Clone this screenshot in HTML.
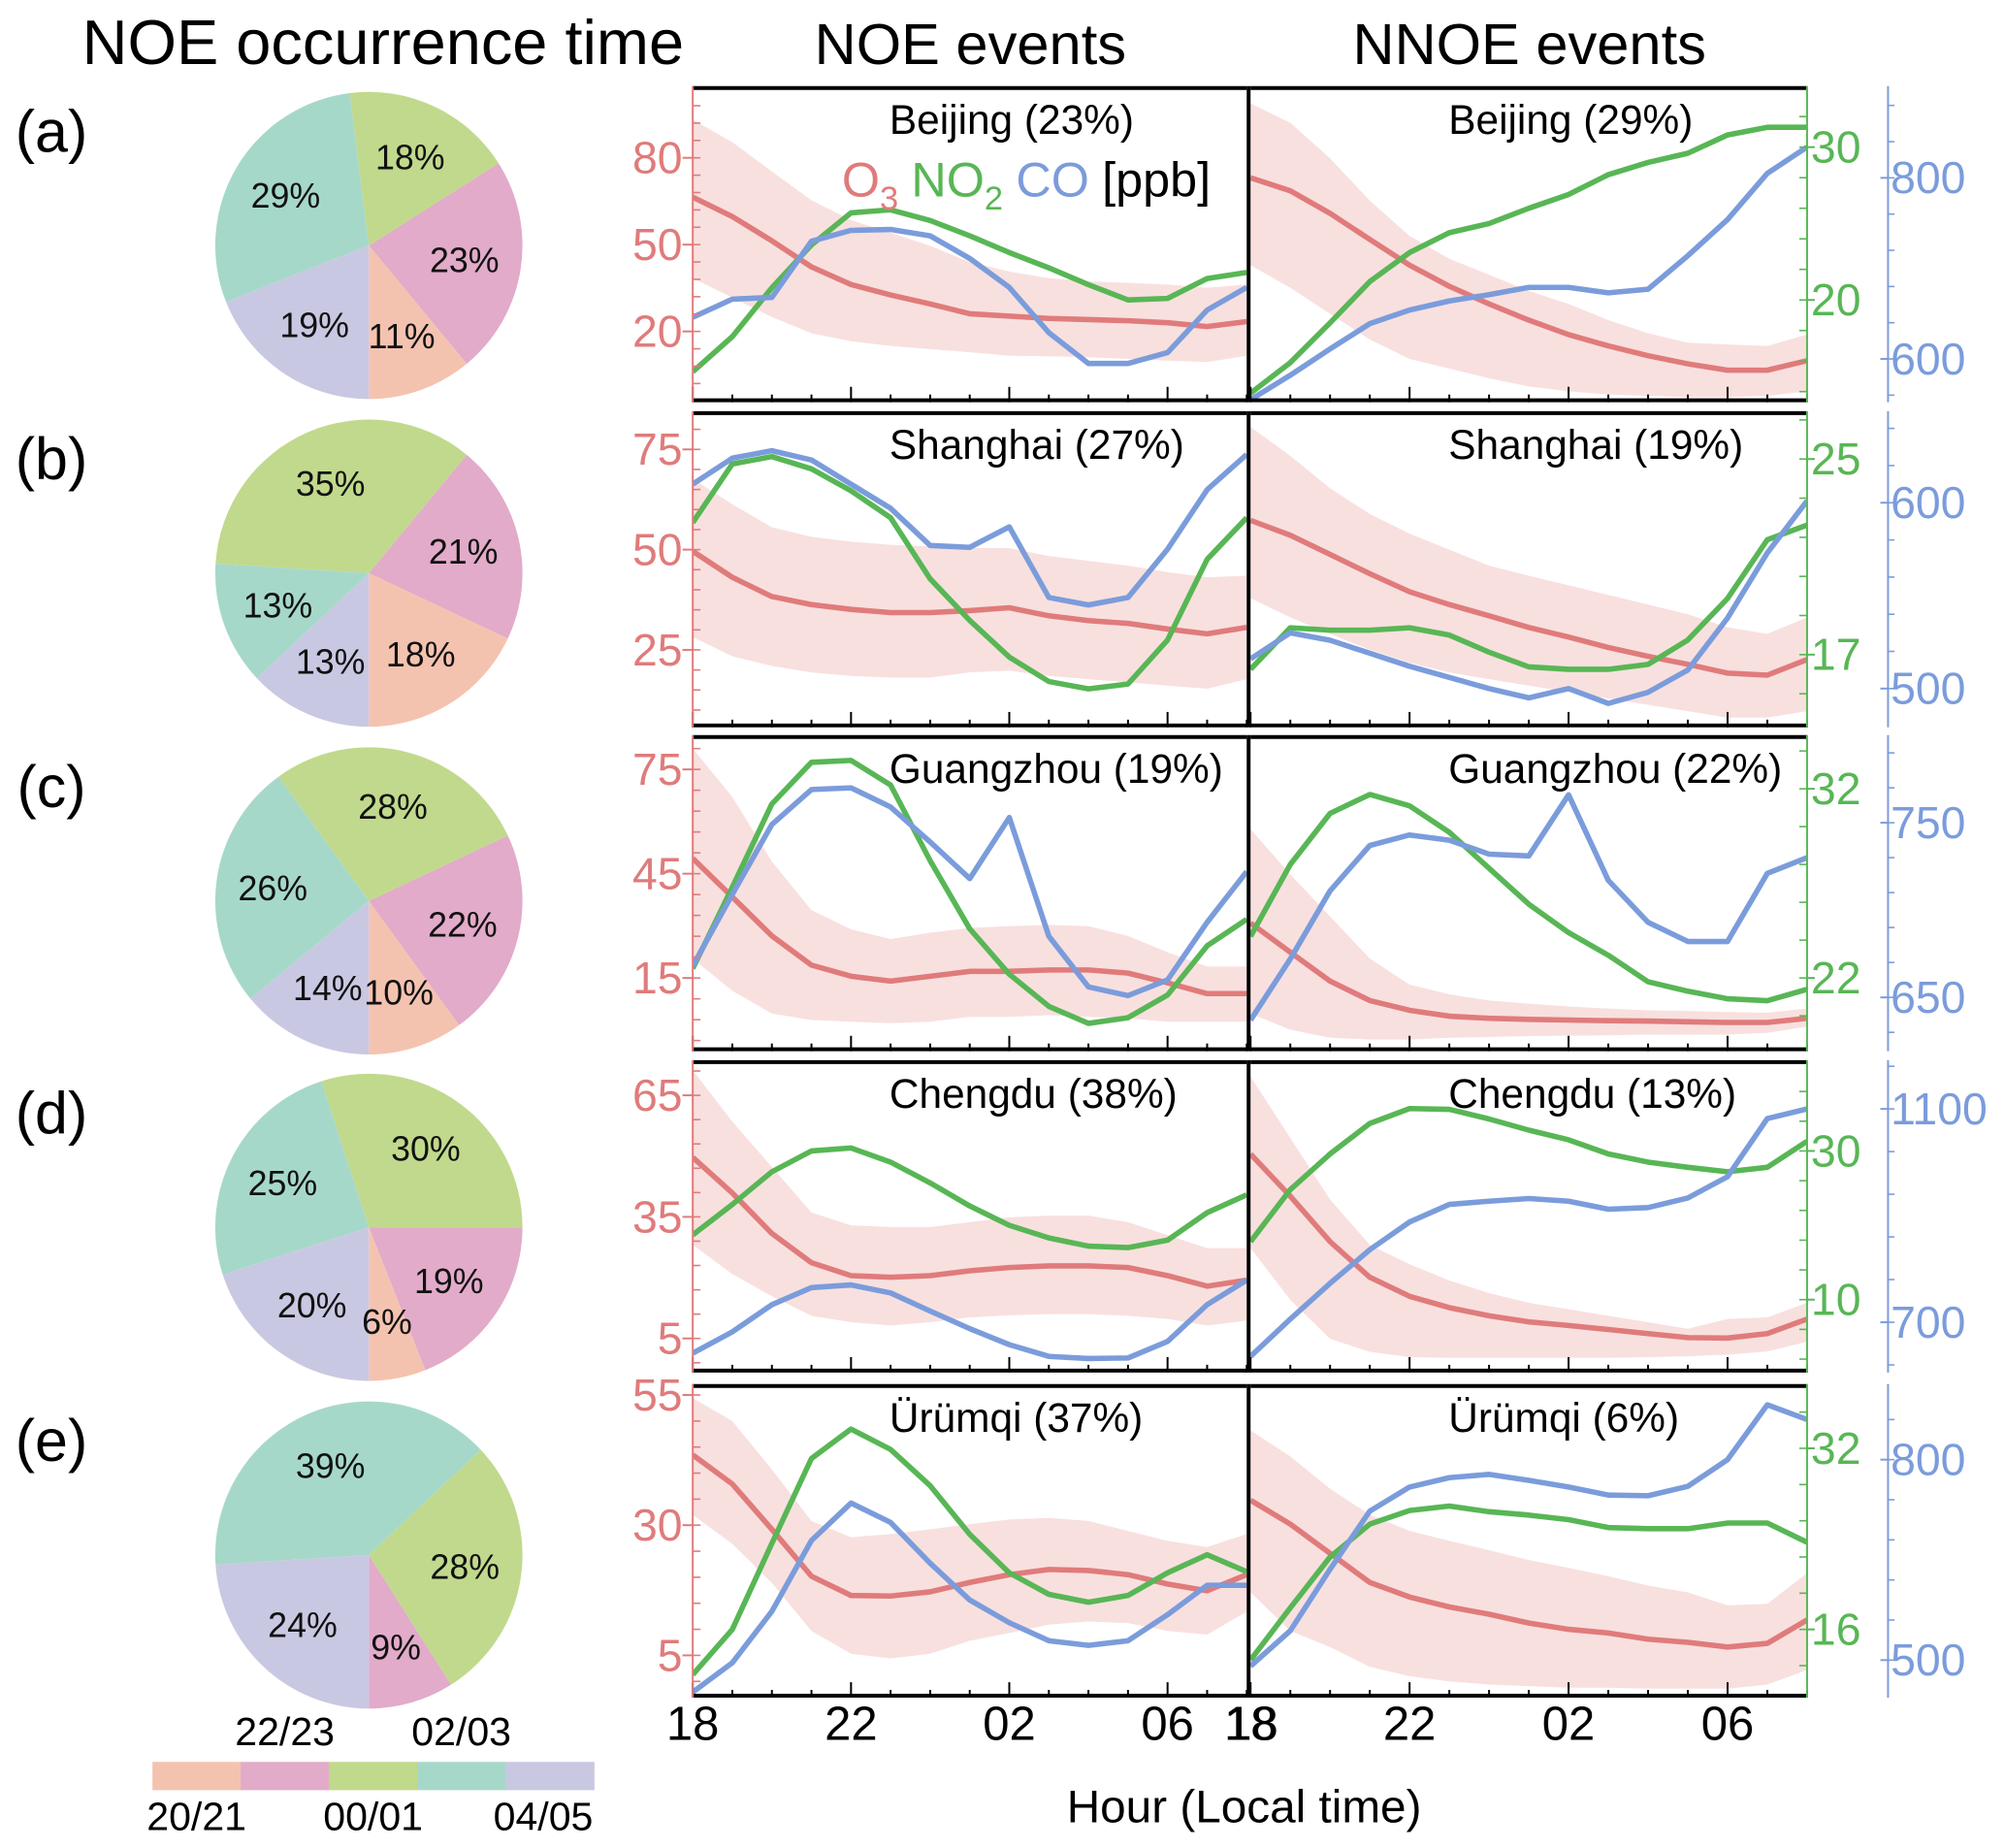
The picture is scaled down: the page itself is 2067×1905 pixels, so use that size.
<!DOCTYPE html>
<html><head><meta charset="utf-8">
<style>
html,body{margin:0;padding:0;background:#fff;}
svg{display:block;font-family:"Liberation Sans",Arial,sans-serif;}
</style></head>
<body>
<svg id="fig" xmlns="http://www.w3.org/2000/svg" width="2067" height="1905" viewBox="0 0 1560 1438" preserveAspectRatio="none">
<rect x="0" y="0" width="1560" height="1438" fill="#fff"/>
<text x="298" y="50" font-size="49" text-anchor="middle">NOE occurrence time</text>
<text x="755" y="50" font-size="45" text-anchor="middle">NOE events</text>
<text x="1190" y="50" font-size="45" text-anchor="middle">NNOE events</text>
<text x="968" y="1418" font-size="36" text-anchor="middle">Hour (Local time)</text>
<g id="layer"></g>
</svg>
<script>
// ---------- data ----------
const hourLabels = ["18","22","02","06"];
const slotLabels = ["20/21","22/23","00/01","02/03","04/05"];
const cityNames = ["Beijing","Shanghai","Guangzhou","Chengdu","Ürümqi"];
const noeShare = ["23%","27%","19%","38%","37%"];
const nnoeShare = ["29%","19%","22%","13%","6%"];
const rowLetters = ["(a)","(b)","(c)","(d)","(e)"];

const pieA = [11,23,18,29,19];
const pieB = [18,21,35,13,13];
const pieC = [10,22,28,26,14];
const pieD = [6,19,30,25,20];
const pieE = [0,9,28,39,24];

const o3TicksA=[20,50,80], no2TicksA=[20,30], coTicksA=[600,800];
const o3TicksB=[25,50,75], no2TicksB=[17,25], coTicksB=[500,600];
const o3TicksC=[15,45,75], no2TicksC=[22,32], coTicksC=[650,750];
const o3TicksD=[5,35,65], no2TicksD=[10,30], coTicksD=[700,1100];
const o3TicksE=[5,30,55], no2TicksE=[16,32], coTicksE=[500,800];

// Row a
const noeA_o3=[66.4,59.7,51.3,42.3,36.2,32.6,29.5,26.1,25.3,24.5,24.1,23.7,23,21.7,23.4];
const noeA_hi=[93.2,85.4,75.3,65.3,58.5,54.1,49.6,44,40.7,38.4,37.3,36.8,36.2,35.1,36.2];
const noeA_lo=[38.4,31.7,25,19.4,16.6,15,13.9,12.8,11.6,11.4,11.1,10.5,9.9,9.4,11.6];
const noeA_no2=[15.3,17.6,20.8,23.6,25.7,25.9,25.2,24.2,23.1,22.1,21,20,20.1,21.4,21.8];
const noeA_co=[646,666,668,730,742,743,736,711,679,629,595,595,607,654,679];
const nnoeA_o3=[73.1,68.6,60.8,51.8,42.9,35.6,29.5,23.9,18.9,15,11.6,8.8,6.6,6.6,9.9];
const nnoeA_hi=[98.8,92.1,79.8,65.2,53,45.1,39.6,34,29.5,23.9,19.4,16.1,15.5,15,18.9];
const nnoeA_lo=[42.9,35.1,26.1,17.2,10.5,7.2,3.8,1,-0.7,-1.8,-2.3,-2.7,-2.7,-2.3,-0.7];
const nnoeA_no2=[13.9,15.9,18.5,21.2,23.1,24.4,25,26,26.9,28.2,29,29.6,30.8,31.3,31.3];
const nnoeA_co=[555,582,611,639,654,664,671,679,679,673,677,714,754,805,834];
// Row b
const noeB_o3=[49.6,43.1,38.3,36.3,35.1,34.3,34.3,34.8,35.5,33.5,32.3,31.6,30.2,29,30.6];
const noeB_hi=[67.7,61.3,55.6,53.2,52,51.2,50.8,50.4,50.4,48.4,47.2,46,44.4,43.1,43.5];
const noeB_lo=[28.2,23.4,21,19.4,18.5,18.1,18.1,19.4,19.8,18.5,17.7,16.9,16.1,15.3,17.7];
const noeB_no2=[22.4,24.8,25.1,24.6,23.7,22.6,20.1,18.4,16.9,15.9,15.6,15.8,17.6,20.9,22.6];
const noeB_co=[610,624,628,623,610,597,577,576,587,549,545,549,575,607,626];
const nnoeB_o3=[57.3,53.6,48.8,44,39.5,36.3,33.5,30.6,28.2,25.6,23.4,21.4,19.2,18.7,22.6];
const nnoeB_hi=[80.6,73.4,65.3,58.9,54,50,46,43.5,41.1,38.7,36.3,33.9,30.6,29,33.1];
const nnoeB_lo=[37.9,33.1,29,25,21.8,19.4,17.7,16.1,14.5,12.9,11.3,9.7,8.1,8.1,9.7];
const nnoeB_no2=[16.4,18.1,18,18,18.1,17.8,17.1,16.5,16.4,16.4,16.6,17.6,19.3,21.7,22.3];
const nnoeB_co=[516,530,526,519,512,506,500,495,500,492,498,510,538,573,601];
// Row c
const noeC_o3=[49.4,38.3,27.1,18.7,15.5,14.1,15.5,16.9,16.9,17.3,17.3,16.4,13.6,10.5,10.5];
const noeC_hi=[81,67.1,48.5,34.5,29,26.2,28,29.4,29.9,30.3,29.9,27.1,22.4,18.3,18.3];
const noeC_lo=[20.6,11.3,4.8,2.9,2.4,2,2.4,3.8,3.8,4.3,3.8,3.4,2.4,2.4,2.4];
const noeC_no2=[22.5,26.8,31.2,33.4,33.5,32.2,28.2,24.6,22.2,20.5,19.6,19.9,21.1,23.7,25.1];
const noeC_co=[668,709,749,769,770,759,739,718,753,685,656,651,660,693,722];
const nnoeC_o3=[30.8,22.4,14.1,8.5,5.7,4,3.4,3.1,2.9,2.7,2.6,2.4,2.2,2.2,3.4];
const nnoeC_hi=[57.8,44.8,32.7,20.6,13.1,10.3,8.5,7.6,6.8,6.2,5.7,5.5,5.2,5,6.2];
const nnoeC_lo=[4.8,0.1,-2.2,-2.7,-2.7,-2.2,-2,-1.7,-1.6,-1.5,-1.3,-1.3,-1.3,-0.8,1];
const nnoeC_no2=[24.2,28,30.7,31.7,31.1,29.7,27.8,25.9,24.4,23.2,21.8,21.3,20.9,20.8,21.4];
const nnoeC_co=[637,672,711,737,743,740,732,731,766,717,693,682,682,721,730];
// Row d
const noeD_o3=[49.7,40.9,30.9,23.7,20.5,20.1,20.5,21.7,22.5,22.9,22.9,22.5,20.5,17.9,19.4];
const noeD_hi=[71.2,58.5,47.3,36.1,32.9,32.5,32.5,33.7,34.9,35.3,35.3,33.7,30.5,27.3,27.3];
const noeD_lo=[28.1,20.9,15.4,10.6,9,8.2,9,10.2,10.7,11,11,10.6,9.8,8.2,9.4];
const noeD_no2=[18.7,22.8,27.2,30,30.4,28.5,25.7,22.6,20,18.3,17.2,17,18,21.7,24.1];
const noeD_co=[642,682,733,765,770,755,721,688,658,636,632,633,664,733,779];
const nnoeD_o3=[50.5,40.1,28.9,20.1,15.4,12.6,10.6,9.1,8.2,7.2,6.2,5.2,5.1,6.2,9.8];
const nnoeD_hi=[69.6,54.5,39.3,28.1,23.3,19.3,16.2,13.8,12.2,10.6,9,7.4,9.8,10.2,13.8];
const nnoeD_lo=[27.3,14.5,4.9,1.7,0.4,0.2,0.2,0.2,0.2,0.2,0.4,0.6,1,1.8,4.2];
const nnoeD_no2=[17.8,24.8,29.6,33.7,35.7,35.6,34.3,32.8,31.5,29.6,28.5,27.8,27.2,27.8,31.3];
const nnoeD_co=[636,706,773,836,888,921,927,932,927,912,915,933,973,1082,1100];
// Row e
const noeE_o3=[43.5,37.9,29.2,20.2,16.5,16.4,17.2,19,20.5,21.5,21.3,20.5,18.7,17.4,20.5];
const noeE_hi=[54.4,50,40.7,30.8,27.7,28.3,29.2,30.2,31.1,31.4,30.8,28.9,27,25.8,28.3];
const noeE_lo=[32,26.4,18.9,9.7,5.3,4.4,5.3,7.8,9.3,10.9,11.5,11.2,9.7,9,13.4];
const noeE_no2=[12,16,23.6,31.1,33.7,31.9,28.7,24.4,21,19.1,18.4,19,21,22.6,21.1];
const noeE_co=[452,496,573,679,735,706,645,590,556,529,522,529,568,612,612];
const nnoeE_o3=[34.8,30.2,24.6,19,16.2,14.3,12.9,11.2,10,9.3,8.1,7.5,6.6,7.3,11.8];
const nnoeE_hi=[48.2,43.2,37,32,28.9,27,25.2,23.3,21.8,20.2,18.4,17.1,14.6,14.9,20.8];
const nnoeE_lo=[17.1,9.7,6.6,2.8,1,0,-0.6,-0.9,-1.2,-1.2,-1.4,-1.4,-1.4,-0.6,2.2];
const nnoeE_no2=[13.3,17.9,22.4,25.3,26.5,26.9,26.4,26.1,25.7,25,24.9,24.9,25.4,25.4,23.7];
const nnoeE_co=[491,544,636,723,759,773,778,769,759,747,746,760,800,882,860];

// ---------- layout (not data) ----------
const RED="#e07b7b", GREEN="#58b655", BLUE="#7b9cdb", BAND="#f8e0df";
const sliceColors=["#f4c3b0","#e2abc9","#c1d98c","#a6d8c9","#c9c8e2"];
const rowTop=[67,320,572,825,1077], rowBot=[313,566,818,1068,1321];
const panelX=[[539,970],[973,1406]];
const pieCY=[191,446,701,955,1210], pieCX=287, pieR=119.5;
const calO3=[[[80,122.8],[20,257.9]],[[75,349.7],[25,505.7]],[[75,598.7],[15,761]],[[65,852.3],[5,1041.5]],[[55,1085.5],[5,1288.1]]];
const calNO2=[[[30,114.5],[20,233.4]],[[25,357.2],[17,509.4]],[[32,613.8],[22,761]],[[30,895.6],[10,1011.3]],[[32,1127],[16,1267.9]]];
const calCO=[[[800,138.4],[600,279.3]],[[600,391.2],[500,535.8]],[[750,640.2],[650,776.1]],[[1100,862.9],[700,1028.9]],[[800,1135.8],[500,1291.8]]];

const rows=[
 {pie:pieA,o3t:o3TicksA,no2t:no2TicksA,cot:coTicksA,p:[[noeA_o3,noeA_hi,noeA_lo,noeA_no2,noeA_co],[nnoeA_o3,nnoeA_hi,nnoeA_lo,nnoeA_no2,nnoeA_co]]},
 {pie:pieB,o3t:o3TicksB,no2t:no2TicksB,cot:coTicksB,p:[[noeB_o3,noeB_hi,noeB_lo,noeB_no2,noeB_co],[nnoeB_o3,nnoeB_hi,nnoeB_lo,nnoeB_no2,nnoeB_co]]},
 {pie:pieC,o3t:o3TicksC,no2t:no2TicksC,cot:coTicksC,p:[[noeC_o3,noeC_hi,noeC_lo,noeC_no2,noeC_co],[nnoeC_o3,nnoeC_hi,nnoeC_lo,nnoeC_no2,nnoeC_co]]},
 {pie:pieD,o3t:o3TicksD,no2t:no2TicksD,cot:coTicksD,p:[[noeD_o3,noeD_hi,noeD_lo,noeD_no2,noeD_co],[nnoeD_o3,nnoeD_hi,nnoeD_lo,nnoeD_no2,nnoeD_co]]},
 {pie:pieE,o3t:o3TicksE,no2t:no2TicksE,cot:coTicksE,p:[[noeE_o3,noeE_hi,noeE_lo,noeE_no2,noeE_co],[nnoeE_o3,nnoeE_hi,nnoeE_lo,nnoeE_no2,nnoeE_co]]}
];

const NS="http://www.w3.org/2000/svg";
const layer=document.getElementById('layer');
function mk(tag,attrs,parent){const e=document.createElementNS(NS,tag);for(const k in attrs)e.setAttribute(k,attrs[k]);(parent||layer).appendChild(e);return e;}
function scale(cal){const [a,b]=cal;return v=>a[1]+(v-a[0])*(b[1]-a[1])/(b[0]-a[0]);}
function xPos(panel,i){const [l,r]=panelX[panel];return l+i*(r-l)/14;}

const defs=mk('defs',{});
rows.forEach((row,ri)=>{
  const top=rowTop[ri], bot=rowBot[ri];
  const yO3=scale(calO3[ri]), yNO2=scale(calNO2[ri]), yCO=scale(calCO[ri]);
  const lt=mk('text',{x:40,y:pieCY[ri]-73,'font-size':46,'text-anchor':'middle'});
  lt.textContent=rowLetters[ri];
  
  
  const pg=mk('g',{});
  
  
  const tot=row.pie.reduce((a,b)=>a+b,0);
  let acc=0;
  row.pie.forEach((v,si)=>{
    if(v<=0){return;}
    const a0=acc/tot*2*Math.PI, a1=(acc+v)/tot*2*Math.PI; acc+=v;
    const cx=pieCX, cy=pieCY[ri], r=pieR;
    const x0=cx+r*Math.sin(a0), y0=cy+r*Math.cos(a0), x1=cx+r*Math.sin(a1), y1=cy+r*Math.cos(a1);
    const large=(a1-a0)>Math.PI?1:0;
    const s=mk('path',{d:`M${cx},${cy} L${x0},${y0} A${r},${r} 0 ${large} 0 ${x1},${y1} Z`,fill:sliceColors[si]},pg);
    
    
  });
  acc=0;
  row.pie.forEach((v,si)=>{
    if(v<=0){return;}
    const a0=acc/tot*2*Math.PI, a1=(acc+v)/tot*2*Math.PI; acc+=v;
    const am=(a0+a1)/2, lr=pieR*0.63;
    const t=mk('text',{x:pieCX+lr*Math.sin(am),y:pieCY[ri]+lr*Math.cos(am)+9,'font-size':27,'text-anchor':'middle',fill:'#111'},pg);
    t.textContent=v+'%';
    
    
  });
  [0,1].forEach(pi=>{
    const [l,r]=panelX[pi];
    const d=row.p[pi];
    const cid='clip'+ri+'_'+pi;
    const cp=mk('clipPath',{id:cid},defs);
    mk('rect',{x:l,y:top,width:r-l,height:bot-top},cp);
    const g=mk('g',{'clip-path':`url(#${cid})`});
    
    
    let bp='';
    d[1].forEach((v,i)=>{bp+=(i?'L':'M')+xPos(pi,i)+','+yO3(v);});
    for(let i=d[2].length-1;i>=0;i--){bp+='L'+xPos(pi,i)+','+yO3(d[2][i]);}
    const band=mk('path',{d:bp+'Z',fill:BAND},g);
    
    
    const series=[[d[0],yO3,RED,'o3-line'],[d[3],yNO2,GREEN,'no2-line'],[d[4],yCO,BLUE,'co-line']];
    series.forEach(([vals,ys,col,nm])=>{
      const pts=vals.map((v,i)=>xPos(pi,i)+','+ys(v)).join(' ');
      const pl=mk('polyline',{points:pts,fill:'none',stroke:col,'stroke-width':4.2,'stroke-linejoin':'round'},g);
      
      
    });
    for(let i=0;i<=14;i++){
      const x=xPos(pi,i), len=(i%4===0)?12:6;
      mk('line',{x1:x,y1:bot,x2:x,y2:bot-len,stroke:'#000','stroke-width':1.5});
    }
    mk('line',{x1:l,y1:top+1.5,x2:r,y2:top+1.5,stroke:'#000','stroke-width':3});
    mk('line',{x1:l,y1:bot-1.5,x2:r,y2:bot-1.5,stroke:'#000','stroke-width':3});
    const tt=mk('text',{x:l+(pi?154:153),y:top+37,'font-size':32});
    tt.textContent=cityNames[ri]+' ('+(pi?nnoeShare[ri]:noeShare[ri])+')';
    
    
  });
  mk('line',{x1:971.5,y1:top,x2:971.5,y2:bot,stroke:'#000','stroke-width':3});
  mk('line',{x1:539,y1:top,x2:539,y2:bot,stroke:RED,'stroke-width':1.5});
  mk('line',{x1:1406,y1:top,x2:1406,y2:bot,stroke:GREEN,'stroke-width':1.5});
  mk('line',{x1:1469,y1:top,x2:1469,y2:bot,stroke:BLUE,'stroke-width':1.5});
  const o3step=(row.o3t[1]-row.o3t[0])/5;
  for(let v=row.o3t[0]-10*o3step;v<=row.o3t[2]+10*o3step;v+=o3step){
    const y=yO3(v); if(y<top+3||y>bot-3)continue;
    mk('line',{x1:539,y1:y,x2:545,y2:y,stroke:RED,'stroke-width':1.2});
  }
  row.o3t.forEach(v=>{
    const y=yO3(v);
    mk('line',{x1:531,y1:y,x2:539,y2:y,stroke:RED,'stroke-width':1.5});
    const t=mk('text',{x:531,y:y+12,'font-size':35,'text-anchor':'end',fill:RED});
    t.textContent=v;
    
    
  });
  const nstep=(row.no2t[1]-row.no2t[0])/5;
  for(let v=row.no2t[0]-10*nstep;v<=row.no2t[1]+10*nstep;v+=nstep){
    const y=yNO2(v); if(y<top+3||y>bot-3)continue;
    mk('line',{x1:1400,y1:y,x2:1406,y2:y,stroke:GREEN,'stroke-width':1.2});
  }
  row.no2t.forEach(v=>{
    const y=yNO2(v);
    mk('line',{x1:1406,y1:y,x2:1412,y2:y,stroke:GREEN,'stroke-width':1.5});
    const t=mk('text',{x:1409,y:y+12,'font-size':35,fill:GREEN});
    t.textContent=v;
    
    
  });
  const cstep=(row.cot[1]-row.cot[0])/5;
  for(let v=row.cot[0]-10*cstep;v<=row.cot[1]+10*cstep;v+=cstep){
    const y=yCO(v); if(y<top+3||y>bot-3)continue;
    mk('line',{x1:1469,y1:y,x2:1474,y2:y,stroke:BLUE,'stroke-width':1.2});
  }
  row.cot.forEach(v=>{
    const y=yCO(v);
    mk('line',{x1:1463,y1:y,x2:1469,y2:y,stroke:BLUE,'stroke-width':1.5});
    const t=mk('text',{x:1471,y:y+12,'font-size':35,fill:BLUE});
    t.textContent=v;
    
    
  });
});

const lg=mk('text',{x:655,y:153,'font-size':38});


lg.innerHTML='<tspan fill="'+RED+'">O</tspan><tspan fill="'+RED+'" font-size="26" dy="10">3</tspan><tspan fill="'+GREEN+'" dy="-10" dx="10">NO</tspan><tspan fill="'+GREEN+'" font-size="26" dy="10">2</tspan><tspan fill="'+BLUE+'" dy="-10" dx="10">CO</tspan><tspan fill="#000" dx="10">[ppb]</tspan>';

[0,1].forEach(pi=>{
  hourLabels.forEach((h,k)=>{
    const t=mk('text',{x:xPos(pi,k*4),y:1354,'font-size':37,'text-anchor':'middle'});
    t.textContent=h;
    
    
  });
});
const t18=mk('text',{x:xPos(0,14)+4,y:1354,'font-size':37,'text-anchor':'middle'});
t18.textContent='18';



const lx0=118.6, lx1=462, lw=(lx1-lx0)/5;
slotLabels.forEach((s,i)=>{
  const r=mk('rect',{x:lx0+i*lw,y:1371,width:lw+0.5,height:22,fill:sliceColors[i]});
  
  
  const cx=lx0+(i+0.5)*lw;
  const t=mk('text',{x:cx+(i===4?-5:0),y:(i%2===1)?1358:1424,'font-size':31,'text-anchor':'middle'});
  t.textContent=s;
  
  
});
</script>
</body></html>
